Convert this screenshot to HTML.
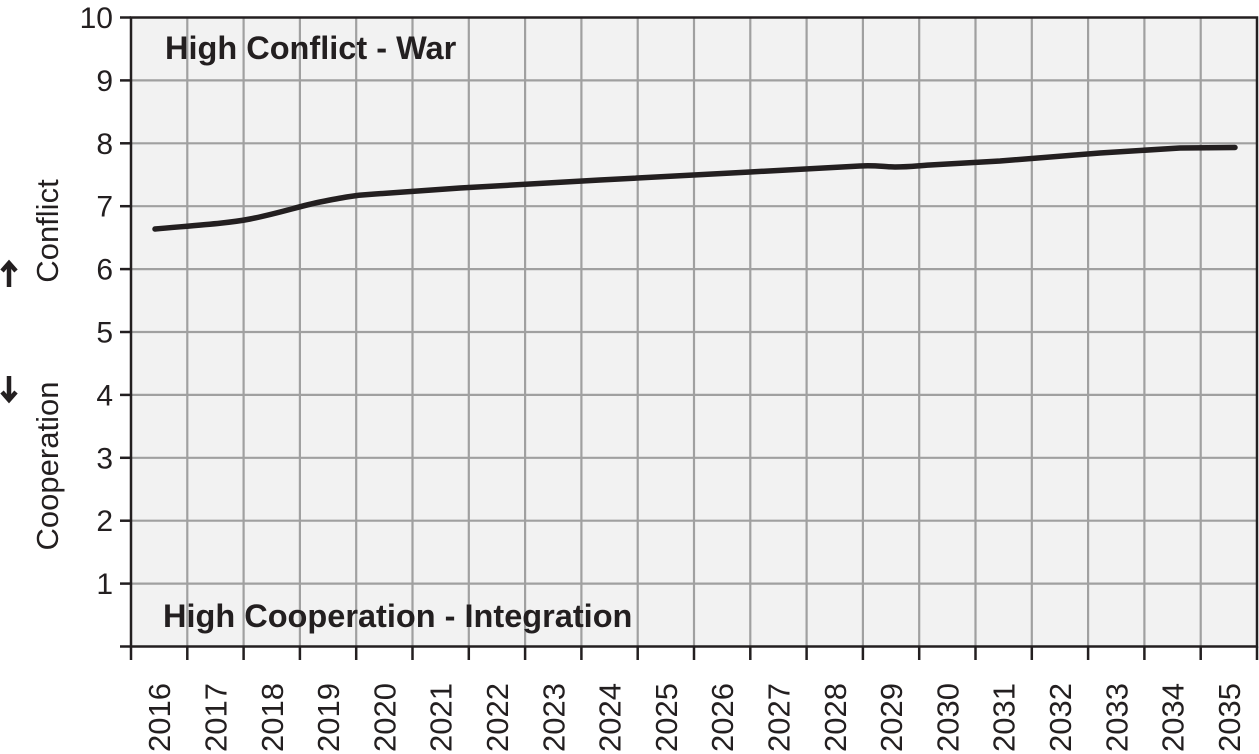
<!DOCTYPE html>
<html><head><meta charset="utf-8"><style>
html,body{margin:0;padding:0;background:#fff;}
svg{display:block;}
text{font-family:"Liberation Sans",Arial,sans-serif;fill:#231f20;}
</style></head><body>
<svg width="1259" height="754" viewBox="0 0 1259 754">
<rect x="131" y="17.5" width="1126" height="629" fill="#f2f2f2"/>
<g stroke="#a0a0a0" stroke-width="2.2">
<line x1="131" y1="80.4" x2="1257" y2="80.4"/><line x1="131" y1="143.3" x2="1257" y2="143.3"/>
<line x1="131" y1="206.2" x2="1257" y2="206.2"/><line x1="131" y1="269.1" x2="1257" y2="269.1"/>
<line x1="131" y1="332" x2="1257" y2="332"/><line x1="131" y1="394.9" x2="1257" y2="394.9"/>
<line x1="131" y1="457.8" x2="1257" y2="457.8"/><line x1="131" y1="520.7" x2="1257" y2="520.7"/>
<line x1="131" y1="583.6" x2="1257" y2="583.6"/>
</g>
<g id="vg" stroke="#a0a0a0" stroke-width="2.2"></g>
<g id="tk" stroke="#231f20" stroke-width="2.5"></g>
<rect x="131" y="17.5" width="1126" height="629" fill="none" stroke="#231f20" stroke-width="2.5"/>
<g id="yl" font-size="30" text-anchor="end"></g>
<g id="xl" font-size="31"></g>
<text x="165" y="59" font-size="32.5" font-weight="bold">High Conflict - War</text>
<text x="163" y="627" font-size="32.5" font-weight="bold">High Cooperation - Integration</text>
<text transform="translate(58,231) rotate(-90)" font-size="31" text-anchor="middle">Conflict</text>
<text transform="translate(58,466) rotate(-90)" font-size="31" text-anchor="middle">Cooperation</text>
<g stroke="#231f20" stroke-width="4.5" fill="none">
<line x1="9" y1="287" x2="9" y2="263"/><polyline points="2,271 9,263 16,271"/>
<line x1="9" y1="376" x2="9" y2="400"/><polyline points="2,392 9,400 16,392"/>
</g>
<path d="M155,229 C200,225 230,223 250,219 C280,213 300,206 320,202 C340,198 355,195 375,194 L460,188 L600,180 L750,172 L860,166 C875,165 885,167 895,167 C910,167 915,166 930,165 L1000,161 L1100,153 L1180,148 L1235,147.5" fill="none" stroke="#231f20" stroke-width="5.5" stroke-linecap="round" stroke-linejoin="round"/>
</svg>
<script>
var ns="http://www.w3.org/2000/svg";
var vg=document.getElementById('vg'),tk=document.getElementById('tk'),yl=document.getElementById('yl'),xl=document.getElementById('xl');
function el(p,t,a){var e=document.createElementNS(ns,t);for(var k in a)e.setAttribute(k,a[k]);p.appendChild(e);return e;}
for(var i=0;i<=20;i++){var x=131+56.3*i;
 if(i>0&&i<20)el(vg,'line',{x1:x,y1:17.5,x2:x,y2:646.5});
 el(tk,'line',{x1:x,y1:646.5,x2:x,y2:660});}
for(var j=0;j<=10;j++){var y=646.5-62.9*j;
 el(tk,'line',{x1:120,y1:y,x2:131,y2:y});
 if(j>0){var t=el(yl,'text',{x:113,y:y+10.5});t.textContent=j;}}
for(var i=0;i<20;i++){var x=131+56.3*(i+0.5)+11;
 var t=el(xl,'text',{transform:'translate('+x+',752) rotate(-90)'});t.textContent=2016+i;}
</script>
</body></html>
